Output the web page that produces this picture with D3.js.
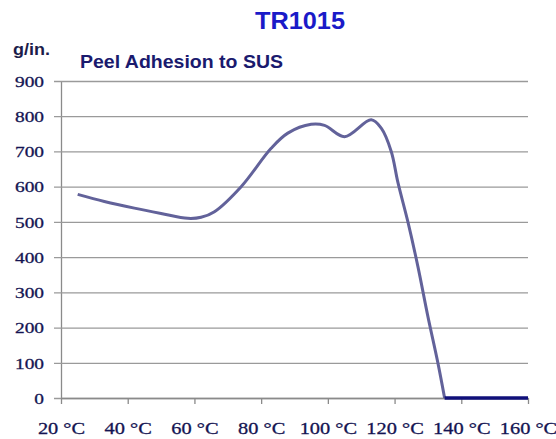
<!DOCTYPE html>
<html>
<head>
<meta charset="utf-8">
<script src="https://cdn.jsdelivr.net/npm/d3@7"></script>
<style>
  body { margin: 0; background: #fff; }
  svg { display: block; }
</style>
</head>
<body>
<div id="chart"></div>
<script>
// peel adhesion readings (temperature in °C, g/in.)
const temps = [25, 33, 42, 50, 58, 62, 66, 74, 83, 88, 95, 99, 105, 113, 116, 119, 121, 124, 127, 130, 133, 135];
const peel = [578, 558, 539, 524, 510, 513, 529, 600, 709, 752, 777, 774, 742, 790, 766, 700, 612, 500, 373, 231, 99, 0];
// second series: no adhesion above 135 °C
const tempsZero = [135, 160];
const peelZero = [0, 0];

const xTicks = [20, 40, 60, 80, 100, 120, 140, 160];
const yTicks = [0, 100, 200, 300, 400, 500, 600, 700, 800, 900];

const W = 556, H = 439;
const plotL = 61, plotR = 528, plotT = 81, plotB = 398;

const svg = d3.select("#chart").append("svg")
    .attr("width", W)
    .attr("height", H);

const x = d3.scaleLinear().domain([20, 160]).range([plotL, plotR]);
const y = d3.scaleLinear().domain([0, 900]).range([plotB, plotT]);

// gridlines + y axis
const yAxis = svg.append("g")
    .attr("transform", `translate(${plotL},0)`)
    .call(d3.axisLeft(y).tickValues(yTicks).tickSize(-(plotR - plotL)).tickSizeOuter(0));
yAxis.attr("font-family", "'Liberation Serif', 'Times New Roman', serif");
yAxis.select(".domain").attr("stroke", "#8a8a8a").attr("stroke-width", 1.3);
yAxis.selectAll(".tick line")
    .attr("x1", -7)
    .attr("stroke", "#9a9a9a")
    .attr("stroke-width", 1.3);
yAxis.selectAll(".tick text")
    .attr("x", -13.6)
    .attr("dy", "0.34em")
    .attr("transform", "scale(1.25,1)")
    .style("font-size", "15.5px")
    .attr("fill", "#141452")
    .attr("stroke", "#141452")
    .attr("stroke-width", 0.3);

// x axis
const xAxis = svg.append("g")
    .attr("transform", `translate(0,${plotB})`)
    .call(d3.axisBottom(x).tickValues(xTicks).tickSize(6).tickSizeOuter(0)
        .tickFormat(d => d + " \u00B0C"));
xAxis.attr("font-family", "'Liberation Serif', 'Times New Roman', serif");
xAxis.select(".domain").attr("stroke", "#8a8a8a").attr("stroke-width", 1.3);
xAxis.selectAll(".tick line").attr("stroke", "#8a8a8a").attr("stroke-width", 1.3);
xAxis.selectAll(".tick text")
    .attr("y", 36)
    .attr("dy", 0)
    .attr("transform", "scale(1.2,1)")
    .style("font-size", "17px")
    .attr("fill", "#141452")
    .attr("stroke", "#141452")
    .attr("stroke-width", 0.3);

// the curve
const line = d3.line()
    .x(d => x(d[0]))
    .y(d => y(d[1]))
    .curve(d3.curveCatmullRom.alpha(0.5));

svg.append("path")
    .datum(d3.zip(temps, peel))
    .attr("fill", "none")
    .attr("stroke", "#62629a")
    .attr("stroke-width", 3)
    .attr("stroke-linejoin", "round")
    .attr("d", line);

svg.append("path")
    .datum(d3.zip(tempsZero, peelZero))
    .attr("fill", "none")
    .attr("stroke", "#10107a")
    .attr("stroke-width", 3.5)
    .attr("d", d3.line().x(d => x(d[0])).y(d => y(d[1])));

// titles
svg.append("text")
    .attr("x", 300).attr("y", 29)
    .attr("text-anchor", "middle")
    .attr("textLength", 90)
    .attr("lengthAdjust", "spacingAndGlyphs")
    .style("font-family", "'Liberation Sans', Arial, sans-serif")
    .style("font-weight", "bold")
    .style("font-size", "23px")
    .attr("fill", "#1a1ac8")
    .text("TR1015");

svg.append("text")
    .attr("x", 13).attr("y", 55)
    .attr("textLength", 37)
    .attr("lengthAdjust", "spacingAndGlyphs")
    .style("font-family", "'Liberation Sans', Arial, sans-serif")
    .style("font-weight", "bold")
    .style("font-size", "17px")
    .attr("fill", "#1c1c4a")
    .text("g/in.");

svg.append("text")
    .attr("x", 80).attr("y", 68)
    .attr("textLength", 203)
    .attr("lengthAdjust", "spacingAndGlyphs")
    .style("font-family", "'Liberation Sans', Arial, sans-serif")
    .style("font-weight", "bold")
    .style("font-size", "18px")
    .attr("fill", "#1a1a6e")
    .text("Peel Adhesion to SUS");
</script>
</body>
</html>
